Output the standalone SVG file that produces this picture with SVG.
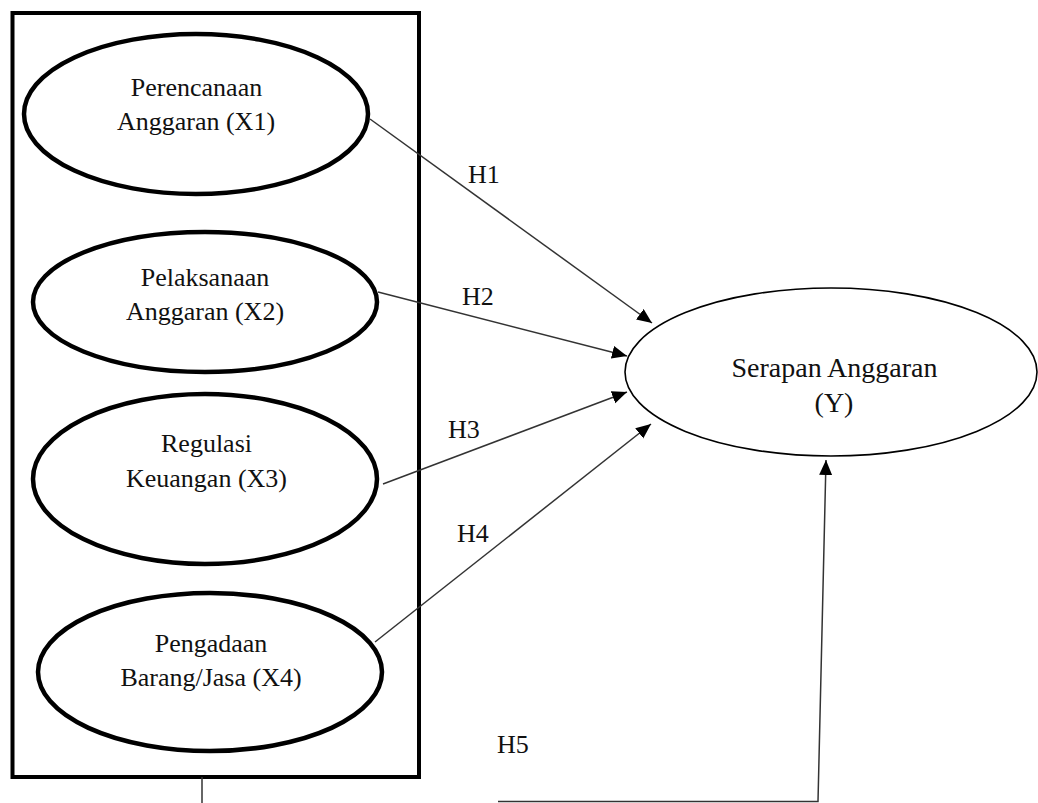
<svg xmlns="http://www.w3.org/2000/svg" width="1038" height="803" viewBox="0 0 1038 803" font-family="'Liberation Serif', 'DejaVu Serif', serif">
  <defs>
    <style>
      .box { fill: none; stroke: #000; stroke-width: 4; }
      .xnode { fill: #fff; stroke: #000; stroke-width: 4.5; }
      .ynode { fill: #fff; stroke: #000; stroke-width: 1.6; }
      text { font-family: 'Liberation Serif', 'DejaVu Serif', serif; fill: #111; }
      .lbl { font-size: 26px; text-anchor: middle; }
      .ylbl { font-size: 28px; text-anchor: middle; }
      .hlbl { font-size: 26px; }
      .conn { fill: none; stroke: #333; stroke-width: 1.5; }
    </style>
    <marker id="arrow" markerUnits="userSpaceOnUse" markerWidth="16" markerHeight="14" refX="15" refY="6.5" orient="auto">
      <path d="M0,0 L15,6.5 L0,13 Z" fill="#000"/>
    </marker>
  </defs>

  <rect width="1038" height="803" fill="#fff"/>

  <g id="group-box">
    <rect class="box" x="12.5" y="13" width="406.5" height="764"/>
  </g>

  <g id="connectors">
    <line class="conn" x1="370" y1="119" x2="652" y2="323" marker-end="url(#arrow)"/>
    <line class="conn" x1="378" y1="292" x2="627" y2="356" marker-end="url(#arrow)"/>
    <line class="conn" x1="383" y1="484" x2="627" y2="392" marker-end="url(#arrow)"/>
    <line class="conn" x1="375" y1="642" x2="651" y2="424" marker-end="url(#arrow)"/>
    <line class="conn" x1="202" y1="777" x2="202" y2="803" stroke="#000"/>
    <polyline class="conn" points="498,801.5 818,801.5 826,460" marker-end="url(#arrow)"/>
    <text class="hlbl" x="468" y="183">H1</text>
    <text class="hlbl" x="462" y="305">H2</text>
    <text class="hlbl" x="448" y="438">H3</text>
    <text class="hlbl" x="457" y="542">H4</text>
    <text class="hlbl" x="497" y="753">H5</text>
  </g>

  <g id="node-x1">
    <ellipse class="xnode" cx="196" cy="114" rx="172" ry="80"/>
    <text class="lbl" x="196.5" y="96">Perencanaan</text>
    <text class="lbl" x="196" y="130">Anggaran (X1)</text>
  </g>

  <g id="node-x2">
    <ellipse class="xnode" cx="205" cy="302" rx="172" ry="70"/>
    <text class="lbl" x="205" y="286">Pelaksanaan</text>
    <text class="lbl" x="205" y="320">Anggaran (X2)</text>
  </g>

  <g id="node-x3">
    <ellipse class="xnode" cx="205" cy="479" rx="172" ry="85"/>
    <text class="lbl" x="206.5" y="452">Regulasi</text>
    <text class="lbl" x="206.5" y="487">Keuangan (X3)</text>
  </g>

  <g id="node-x4">
    <ellipse class="xnode" cx="210" cy="672" rx="172" ry="79"/>
    <text class="lbl" x="211" y="652">Pengadaan</text>
    <text class="lbl" x="211" y="686">Barang/Jasa (X4)</text>
  </g>

  <g id="node-y">
    <ellipse class="ynode" cx="831" cy="372" rx="206" ry="84"/>
    <text class="ylbl" x="834.5" y="377">Serapan Anggaran</text>
    <text class="ylbl" x="834" y="412">(Y)</text>
  </g>
</svg>
